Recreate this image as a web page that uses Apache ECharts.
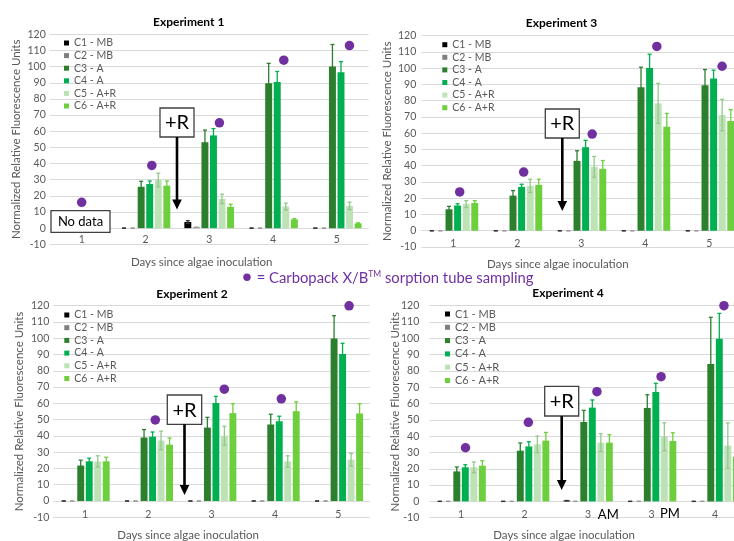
<!DOCTYPE html>
<html><head><meta charset="utf-8">
<script src="https://cdn.jsdelivr.net/npm/echarts@6/dist/echarts.min.js"></script>
<style>html,body{margin:0;padding:0;background:#fff}#c{width:734px;height:541px}</style>
</head><body><div id="c"></div>
<script>
// ---------------- DATA ----------------
const seriesNames = ['C1 - MB', 'C2 - MB', 'C3 - A', 'C4 - A', 'C5 - A+R', 'C6 - A+R'];
const daysLabels = ['1', '2', '3', '4', '5'];
const exp4Labels = ['1', '2', '3 AM', '3 PM', '4'];

// Experiment 1 (rows = C1..C6, columns = days)
const exp1Means = [
  [null, 0, 3.8, 0, 0],
  [null, 0, 0.5, 0, 0],
  [null, 25.6, 53.2, 89.7, 100],
  [null, 27.3, 57.4, 90.4, 96.5],
  [null, 29.8, 18.1, 13.4, 13.8],
  [null, 26.3, 13.2, 5.4, 2.9]
];
const exp1Errs = [
  [null, 0, 0.8, 0, 0],
  [null, 0, 0, 0, 0],
  [null, 3.4, 7.5, 12.3, 13.7],
  [null, 1.9, 4.2, 6.6, 6.6],
  [null, 4.2, 2.9, 2.1, 2.3],
  [null, 2.9, 1.6, 0.5, 0.4]
];
const exp1DotX = [1.0, 2.1, 3.16, 4.17, 5.2];
const exp1DotY = [16, 38.8, 65.2, 104, 113];

// Experiment 3
const exp3Means = [
  [0, 0, 0, 0, 0],
  [0, 0, 0, 0, 0],
  [13.2, 21.6, 43, 88.3, 89.5],
  [15.5, 27, 51.4, 100.2, 93.6],
  [16.4, 27.6, 39.3, 78.4, 71.2],
  [17.1, 28.2, 38.1, 64, 67.5]
];
const exp3Errs = [
  [0, 0, 0, 0, 0],
  [0, 0, 0, 0, 0],
  [1.8, 3.1, 6.2, 12.3, 9.7],
  [1.1, 1.6, 4.2, 8.4, 5.2],
  [2.1, 4.1, 6.4, 12.3, 9.7],
  [1.4, 3.5, 5.1, 8.2, 7]
];
const exp3DotX = [1.1, 2.1, 3.17, 4.18, 5.2];
const exp3DotY = [23.9, 36.1, 59.5, 113.4, 101.2];

// Experiment 2
const exp2Means = [
  [0, 0, 0, 0, 0],
  [0, 0, 0, 0, 0],
  [21.8, 39, 45.1, 47, 99.8],
  [24.4, 39.5, 60.2, 49, 90.4],
  [24.3, 37.2, 40.1, 24.3, 25.4],
  [24.4, 34.6, 54, 55.2, 53.8]
];
const exp2Errs = [
  [0, 0, 0, 0, 0],
  [0, 0, 0, 0, 0],
  [3.3, 4.9, 6.3, 6.3, 14.1],
  [1.9, 2.9, 4.1, 3.1, 6.5],
  [3.5, 5.7, 5.8, 3.5, 3.9],
  [2.5, 4.1, 5.8, 5.7, 6]
];
const exp2DotX = [2.11, 3.2, 4.1, 5.17];
const exp2DotY = [49.8, 68.7, 62.8, 119.9];

// Experiment 4
const exp4Means = [
  [0, 0, 0.5, 0, 0],
  [0, 0, 0, 0, 0],
  [18.4, 31.1, 48.7, 57.3, 84.2],
  [20.9, 33.7, 57.5, 67.1, 99.8],
  [20.9, 35, 36, 39.6, 34.2],
  [21.9, 37.3, 36, 37, 27.4]
];
const exp4Errs = [
  [0, 0, 0, 0, 0],
  [0, 0, 0, 0, 0],
  [2.7, 4.7, 7.1, 8.1, 28.7],
  [1.6, 2.9, 4.7, 5.3, 15.5],
  [3.3, 5.1, 5.5, 8.6, 13.9],
  [3, 5, 4.9, 5.1, 6]
];
const exp4DotX = [1.07, 2.06, 3.14, 4.15, 5.14];
const exp4DotY = [32.9, 48.5, 67.3, 76.5, 120];

// ---------------- STYLE / LAYOUT ----------------
const FONT = 'Lato, "Open Sans", sans-serif';
const GREY = '#595959';
const PURPLE = '#7030a0';
const barColors = ['#000000', '#7f7f7f', '#2b7f2d', '#00b050', '#bce2b6', '#6dcf3e'];
const errColors = ['#333333', '#9a9a9a', '#2b7f2d', '#00b050', '#94c98d', '#6dcf3e'];
const CAT_GAP = 0.22, BAR_GAP = 0.23;

const panels = [
  { title: 'Experiment 1', cats: daysLabels, means: exp1Means, errs: exp1Errs, dotX: exp1DotX, dotY: exp1DotY,
    grid: { left: 49.8, top: 34.3, width: 318.8, height: 210 }, titlePos: [188.7, 16.5],
    legend: { left: 64, top: 37, gap: 0.6, font: 10.5 }, xNameShift: 15, xNameGap: 12.2, xLabelMargin: -10, yLabelMargin: 4 },
  { title: 'Experiment 3', cats: daysLabels, means: exp3Means, errs: exp3Errs, dotX: exp3DotX, dotY: exp3DotY,
    grid: { left: 421.3, top: 35.7, width: 320, height: 211.3 }, titlePos: [561.5, 17.5],
    legend: { left: 442.3, top: 38.7, gap: 0.6, font: 10.5 }, xNameShift: 47, xNameGap: 10.8, xLabelMargin: -9, yLabelMargin: 5 },
  { title: 'Experiment 2', cats: daysLabels, means: exp2Means, errs: exp2Errs, dotX: exp2DotX, dotY: exp2DotY,
    grid: { left: 53.3, top: 305.7, width: 316.7, height: 211.6 }, titlePos: [192, 288.5],
    legend: { left: 64.3, top: 309, gap: 0.7, font: 10.5 }, xNameShift: 47, xNameGap: 12.2, xLabelMargin: -8.5, yLabelMargin: 4 },
  { title: 'Experiment 4', cats: exp4Labels, means: exp4Means, errs: exp4Errs, dotX: exp4DotX, dotY: exp4DotY,
    grid: { left: 429.3, top: 305.7, width: 317.5, height: 212 }, titlePos: [568, 287.5],
    legend: { left: 445, top: 308, gap: 1.3, font: 11 }, xNameShift: 48, xNameGap: 11.8, xLabelMargin: -9, yLabelMargin: 10 }
];

// annotation layout (pixels)
const plusRBoxes = [
  { x: 160, y: 108, w: 34, h: 29, tip: 209.5 },
  { x: 545.3, y: 109, w: 34, h: 29, tip: 211 },
  { x: 167.3, y: 395, w: 34.4, h: 29.3, tip: 495 },
  { x: 544.7, y: 386.3, w: 34, h: 29.7, tip: 490 }
];

function errRender(params, api) {
  const cat = api.value(0), si = api.value(1), v = api.value(2), e = api.value(3);
  const W = api.size([1, 0])[0];
  const n = 6;
  const inner = W * (1 - CAT_GAP);
  const bw = inner / (n + (n - 1) * BAR_GAP);
  const cx = api.coord([cat, 0])[0] - inner / 2 + bw / 2 + si * bw * (1 + BAR_GAP);
  const yTop = api.coord([cat, v + e])[1];
  const yBot = api.coord([cat, v - e])[1];
  const cap = 2;
  const style = { stroke: errColors[si], lineWidth: 1.3, fill: null };
  return {
    type: 'group', children: [
      { type: 'line', shape: { x1: cx, y1: yTop, x2: cx, y2: yBot }, style: style },
      { type: 'line', shape: { x1: cx - cap, y1: yTop, x2: cx + cap, y2: yTop }, style: style },
      { type: 'line', shape: { x1: cx - cap, y1: yBot, x2: cx + cap, y2: yBot }, style: style }
    ]
  };
}

const option = { animation: false, backgroundColor: '#ffffff', title: [], legend: [], grid: [], xAxis: [], yAxis: [], series: [], graphic: [] };

panels.forEach(function (p, k) {
  option.title.push({ text: p.title, left: p.titlePos[0], top: p.titlePos[1], textAlign: 'center', padding: 0,
    textStyle: { fontFamily: FONT, fontSize: 12, fontWeight: 'bold', color: '#000' } });
  option.grid.push(Object.assign({ containLabel: false, outerBoundsMode: 'none' }, p.grid));
  option.xAxis.push({
    type: 'category', gridIndex: k, data: p.cats,
    axisTick: { show: false },
    axisLine: { show: false, onZero: false },
    axisLabel: { color: GREY, fontFamily: FONT, fontSize: 10.5, margin: p.xLabelMargin, formatter: function (v) { return String(v).split(' ')[0]; } },
    name: 'Days since algae inoculation', nameLocation: 'middle', nameGap: p.xNameGap, nameMoveOverlap: false,
    nameTextStyle: { color: GREY, fontFamily: FONT, fontSize: 11.5, padding: [0, p.xNameShift, 0, 0] }
  });
  option.xAxis.push({ type: 'value', gridIndex: k, min: 0.5, max: 5.5, show: false, axisLine: { onZero: false } });
  option.yAxis.push({
    type: 'value', gridIndex: k, min: -10, max: 120, interval: 10,
    axisLine: { show: false, onZero: false }, axisTick: { show: false },
    splitLine: { lineStyle: { color: '#d9d9d9' } },
    axisLabel: { color: GREY, fontFamily: FONT, fontSize: 10.5, margin: p.yLabelMargin },
    name: 'Normalized Relative Fluorescence Units', nameLocation: 'middle', nameGap: 28, nameMoveOverlap: false,
    nameTextStyle: { color: GREY, fontFamily: FONT, fontSize: 11.5 }
  });
  option.legend.push({
    data: seriesNames, orient: 'vertical', left: p.legend.left, top: p.legend.top, padding: 0,
    itemWidth: 5, itemHeight: 5, itemGap: p.legend.gap, icon: 'rect',
    textStyle: { color: GREY, fontFamily: FONT, fontSize: p.legend.font, lineHeight: 12 }
  });
  for (let i = 0; i < 6; i++) {
    option.series.push({
      type: 'bar', name: seriesNames[i], xAxisIndex: 2 * k, yAxisIndex: k,
      data: p.means[i], barGap: (BAR_GAP * 100) + '%', barCategoryGap: (CAT_GAP * 100) + '%',
      itemStyle: { color: barColors[i] }, emphasis: { disabled: true }
    });
  }
  const errData = [];
  for (let c = 0; c < p.cats.length; c++) {
    for (let i = 0; i < 6; i++) {
      if (p.means[i][c] != null) errData.push([c, i, p.means[i][c], p.errs[i][c]]);
    }
  }
  option.series.push({
    type: 'custom', name: 'err' + k, xAxisIndex: 2 * k, yAxisIndex: k, renderItem: errRender,
    data: errData, encode: { x: 0, y: 2 }, z: 5, silent: true
  });
  option.series.push({
    type: 'scatter', name: 'sampling' + k, xAxisIndex: 2 * k + 1, yAxisIndex: k,
    data: p.dotX.map(function (x, j) { return [x, p.dotY[j]]; }),
    symbolSize: 9.5, itemStyle: { color: PURPLE, opacity: 1 }, clip: false, z: 6, silent: true
  });
});

// annotations
plusRBoxes.forEach(function (b) {
  const cx = b.x + b.w / 2;
  option.graphic.push({ type: 'rect', shape: { x: b.x, y: b.y, width: b.w, height: b.h }, style: { fill: '#fff', stroke: '#404040', lineWidth: 1.3 }, z: 100 });
  option.graphic.push({ type: 'text', style: { text: '+R', x: cx, y: b.y + b.h / 2 + 0.5, align: 'center', verticalAlign: 'middle', fill: '#000', fontSize: 20, fontFamily: FONT }, z: 101 });
  option.graphic.push({ type: 'line', shape: { x1: cx, y1: b.y + b.h, x2: cx, y2: b.tip - 9 }, style: { stroke: '#000', lineWidth: 2.6 }, z: 100 });
  option.graphic.push({ type: 'polygon', shape: { points: [[cx - 4.8, b.tip - 10], [cx + 4.8, b.tip - 10], [cx, b.tip]] }, style: { fill: '#000' }, z: 100 });
});
option.graphic.push({ type: 'rect', shape: { x: 51, y: 210.7, width: 59, height: 21.6 }, style: { fill: '#fff', stroke: '#404040', lineWidth: 1.3 }, z: 100 });
option.graphic.push({ type: 'text', style: { text: 'No data', x: 80.5, y: 221.8, align: 'center', verticalAlign: 'middle', fill: '#000', fontSize: 13, fontFamily: FONT }, z: 101 });
// AM / PM suffixes for experiment 4 day-3 samples
const suffixPos = { 2: [608.3, 515], 3: [670, 514] };
exp4Labels.forEach(function (lab, i) {
  const parts = lab.split(' ');
  if (parts.length > 1) {
    option.graphic.push({ type: 'text', style: { text: parts[1], x: suffixPos[i][0], y: suffixPos[i][1], align: 'center', verticalAlign: 'middle', fill: '#000', fontSize: 13, fontFamily: FONT }, z: 101 });
  }
});
// sampling legend
option.graphic.push({ type: 'circle', shape: { cx: 247, cy: 277.3, r: 3.7 }, style: { fill: PURPLE }, z: 100 });
option.graphic.push({ type: 'text', style: {
  text: '= Carbopack X/B{sup|TM} sorption tube sampling', x: 256.7, y: 278.5, align: 'left', verticalAlign: 'middle',
  fill: PURPLE, fontSize: 14.8, fontFamily: FONT, lineHeight: 18,
  rich: { sup: { fontSize: 8.5, lineHeight: 10, verticalAlign: 'top', fill: PURPLE, fontFamily: FONT } }
}, z: 101 });

const chart = echarts.init(document.getElementById('c'), null, { renderer: 'canvas', width: 734, height: 541 });
chart.setOption(option);
</script>
</body></html>
